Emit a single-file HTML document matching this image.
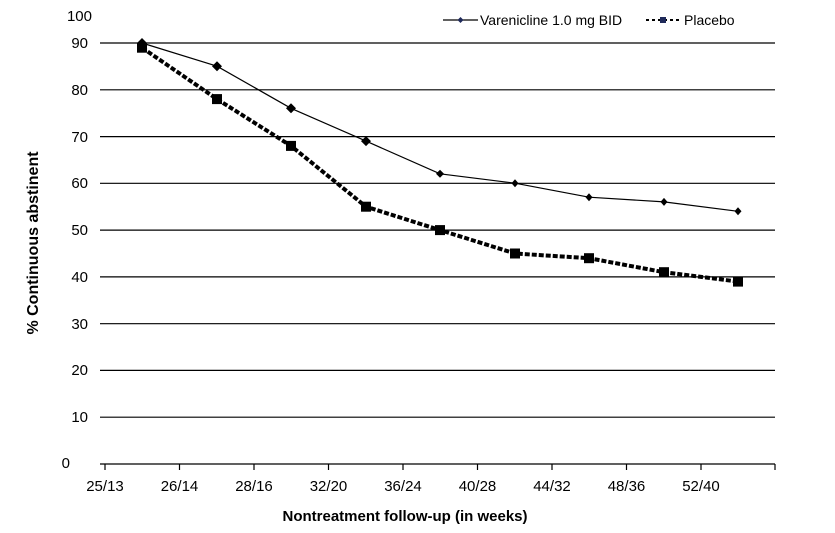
<!DOCTYPE html>
<html><head><style>body{margin:0;background:#fff}svg{display:block}</style></head><body>
<svg width="835" height="533" xmlns="http://www.w3.org/2000/svg" font-family="Liberation Sans, Arial, sans-serif">
<rect width="835" height="533" fill="#fff"/>
<g stroke="#000" stroke-width="1.2">
<line x1="100" y1="43" x2="775" y2="43"/>
<line x1="100" y1="89.8" x2="775" y2="89.8"/>
<line x1="100" y1="136.6" x2="775" y2="136.6"/>
<line x1="100" y1="183.3" x2="775" y2="183.3"/>
<line x1="100" y1="230.1" x2="775" y2="230.1"/>
<line x1="100" y1="276.9" x2="775" y2="276.9"/>
<line x1="100" y1="323.7" x2="775" y2="323.7"/>
<line x1="100" y1="370.4" x2="775" y2="370.4"/>
<line x1="100" y1="417.2" x2="775" y2="417.2"/>
<line x1="100" y1="464" x2="775" y2="464"/>
<line x1="105" y1="464" x2="105" y2="470"/><line x1="179.5" y1="464" x2="179.5" y2="470"/><line x1="254" y1="464" x2="254" y2="470"/><line x1="328.5" y1="464" x2="328.5" y2="470"/><line x1="403" y1="464" x2="403" y2="470"/><line x1="477.5" y1="464" x2="477.5" y2="470"/><line x1="552" y1="464" x2="552" y2="470"/><line x1="626.5" y1="464" x2="626.5" y2="470"/><line x1="701" y1="464" x2="701" y2="470"/><line x1="775" y1="464" x2="775" y2="470"/>
</g>
<g font-size="15" text-anchor="end" fill="#000">
<text x="92" y="21">100</text><text x="88" y="48">90</text><text x="88" y="95">80</text><text x="88" y="142">70</text><text x="88" y="188">60</text><text x="88" y="235">50</text><text x="88" y="282">40</text><text x="88" y="329">30</text><text x="88" y="375">20</text><text x="88" y="422">10</text><text x="70" y="468">0</text>
</g>
<g font-size="15" text-anchor="middle">
<text x="105" y="491">25/13</text><text x="179.5" y="491">26/14</text><text x="254" y="491">28/16</text><text x="328.5" y="491">32/20</text><text x="403" y="491">36/24</text><text x="477.5" y="491">40/28</text><text x="552" y="491">44/32</text><text x="626.5" y="491">48/36</text><text x="701" y="491">52/40</text>
</g>
<text x="405" y="521" font-size="15" font-weight="bold" text-anchor="middle">Nontreatment follow-up (in weeks)</text>
<text transform="translate(38,243) rotate(-90)" font-size="16" font-weight="bold" text-anchor="middle">% Continuous abstinent</text>
<polyline fill="none" stroke="#000" stroke-width="1.2" points="142,43 217,66.2 291,108.3 366,141.1 440,173.8 515,183.2 589,197.2 664,201.9 738,211.3"/>
<g fill="#000">
<path d="M142,38 l5,5 -5,5 -5,-5z M217,61.2 l5,5 -5,5 -5,-5z M291,103.3 l5,5 -5,5 -5,-5z M366,136.1 l5,5 -5,5 -5,-5z M440,169.8 l4,4 -4,4 -4,-4z M515,179.2 l3.5,4 -3.5,4 -3.5,-4z M589,193.2 l3.5,4 -3.5,4 -3.5,-4z M664,197.9 l3.5,4 -3.5,4 -3.5,-4z M738,207.3 l3.5,4 -3.5,4 -3.5,-4z"/>
</g>
<polyline fill="none" stroke="#000" stroke-width="4" stroke-dasharray="5,2" points="142,47.7 217,99.1 291,145.9 366,206.7 440,230.1 515,253.5 589,258.2 664,272.2 738,281.6"/>
<g fill="#000">
<rect x="137" y="42.7" width="10" height="10"/><rect x="212" y="94.1" width="10" height="10"/><rect x="286" y="140.9" width="10" height="10"/><rect x="361" y="201.7" width="10" height="10"/><rect x="435" y="225.1" width="10" height="10"/><rect x="510" y="248.5" width="10" height="10"/><rect x="584" y="253.2" width="10" height="10"/><rect x="659" y="267.2" width="10" height="10"/><rect x="733" y="276.6" width="10" height="10"/>
</g>
<rect x="440" y="4" width="335" height="33" fill="#fff"/>
<line x1="443" y1="20" x2="478" y2="20" stroke="#000" stroke-width="1.2"/>
<path d="M460.5,17 l3,3 -3,3 -3,-3z" fill="#1f2a5a"/>
<text x="480" y="25" font-size="14">Varenicline 1.0 mg BID</text>
<line x1="646" y1="20" x2="681" y2="20" stroke="#000" stroke-width="2" stroke-dasharray="3,3"/>
<rect x="660" y="17" width="6" height="6" fill="#1f2a5a"/>
<text x="684" y="25" font-size="14">Placebo</text>
</svg>
</body></html>
